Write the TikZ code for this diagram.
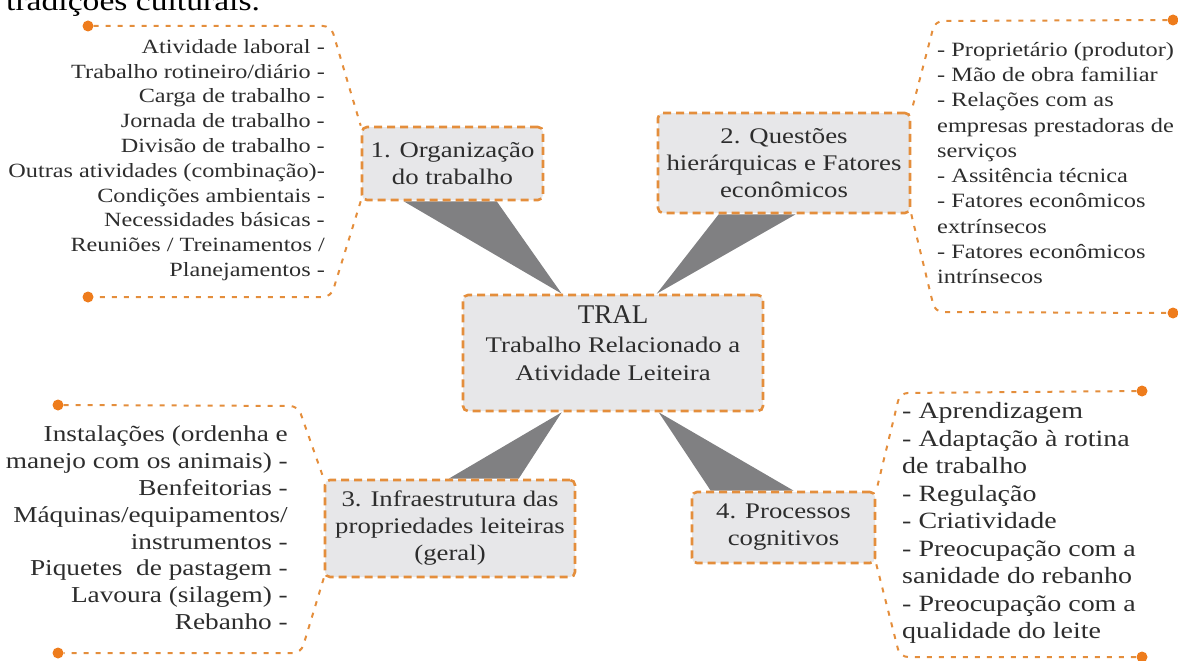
\documentclass[tikz,border=0pt]{standalone}
\usepackage{fontspec}
\setmainfont{Liberation Serif}[FakeStretch=1.2]
\newfontfamily\tralfont{Liberation Serif}
\usetikzlibrary{
  calc,
  backgrounds
}
\definecolor{tralorange}{RGB}{228,142,60}
\definecolor{dotorange}{RGB}{238,124,28}
\definecolor{boxgray}{RGB}{231,231,233}
\definecolor{wedgegray}{RGB}{128,128,130}
\definecolor{inktext}{RGB}{45,45,45}

\begin{document}
\begin{tikzpicture}[
  x=1pt, y=-1pt,
  every node/.style={text=inktext, inner sep=0pt},
  topicbox/.style={draw=tralorange, fill=boxgray, line width=2.6pt,
                dash pattern=on 8pt off 5pt, rounded corners=5pt, align=center,
                font=\fontsize{22.3}{27}\selectfont},
  itemlist/.style={font=\fontsize{20.2}{24.8}\selectfont},
  bracket/.style={draw=tralorange, line width=2pt,
                dash pattern=on 5pt off 7pt, rounded corners=8pt},
  enddot/.style={circle, fill=dotorange, minimum size=11pt},
  wedge/.style={fill=wedgegray}
]
\useasboundingbox (0,0) rectangle (1178,661);

\node[anchor=base west, text=black, font=\fontsize{28}{32}\selectfont] (prev) at (6,11) {tradições culturais.};

\node[topicbox, minimum width=300pt, minimum height=116pt] (tral) at (613,353) {};
\node[align=center, font=\fontsize{22.3}{28.5}\selectfont] (tral text) at ([yshift=9.5pt]tral.center)
  {{\tralfont\fontsize{27}{28}\selectfont TRAL}\\Trabalho Relacionado a\\Atividade Leiteira};

\node[topicbox, minimum width=181pt, minimum height=73pt] (org) at (452.5,163.5) {1. Organização\\do trabalho};
\node[topicbox, minimum width=252pt, minimum height=100pt] (hier) at (784,163) {2. Questões\\hierárquicas e Fatores\\econômicos};
\node[topicbox, minimum width=250pt, minimum height=97pt] (infra) at (450,528.5) {3. Infraestrutura das\\propriedades leiteiras\\(geral)};
\node[topicbox, minimum width=183pt, minimum height=71pt] (cogn) at (783.5,527.5) {4. Processos\\cognitivos};

\begin{scope}[on background layer]
  \fill[wedge] ([xshift=43pt]org.south west) -- ([xshift=136pt]org.south west) -- ([xshift=100pt]tral.north west) -- cycle;
  \fill[wedge] ([xshift=62pt]hier.south west) -- ([xshift=139pt]hier.south west) -- ([xshift=195pt]tral.north west) -- cycle;
  \fill[wedge] ([xshift=125pt]infra.north west) -- ([xshift=195pt]infra.north west) -- ([xshift=100pt]tral.south west) -- cycle;
  \fill[wedge] ([xshift=20pt]cogn.north west) -- ([xshift=103pt]cogn.north west) -- ([xshift=197pt]tral.south west) -- cycle;
\end{scope}

\node[itemlist, align=right, anchor=east] (org items) at (325,160)
  {Atividade laboral -\\Trabalho rotineiro/diário -\\Carga de trabalho -\\Jornada de trabalho -\\Divisão de trabalho -\\Outras atividades (combinação)-\\Condições ambientais -\\Necessidades básicas -\\Reuniões / Treinamentos /\\Planejamentos -};
\node[itemlist, font=\fontsize{20.3}{25.3}\selectfont, align=left, anchor=west] (hier items) at (937,163)
  {- Proprietário (produtor)\\- Mão de obra familiar\\- Relações com as\\empresas prestadoras de\\serviços\\- Assitência técnica\\- Fatores econômicos\\extrínsecos\\- Fatores econômicos\\intrínsecos};
\node[itemlist, font=\fontsize{22.75}{26.8}\selectfont, align=right, anchor=east] (infra items) at (288,528)
  {Instalações (ordenha e\\manejo com os animais) -\\Benfeitorias -\\Máquinas/equipamentos/\\instrumentos -\\Piquetes~ de pastagem -\\Lavoura (silagem) -\\Rebanho -};
\node[itemlist, font=\fontsize{23.3}{27.5}\selectfont, align=left, anchor=west] (cogn items) at (902,523)
  {- Aprendizagem\\- Adaptação à rotina\\de trabalho\\- Regulação\\- Criatividade\\- Preocupação com a\\sanidade do rebanho\\- Preocupação com a\\qualidade do leite};

\node[enddot] (org top) at (88,26) {};
\node[enddot] (org bot) at (88,297) {};
\node[enddot] (hier top) at (1173,20) {};
\node[enddot] (hier bot) at (1173,313) {};
\node[enddot] (infra top) at (58,405) {};
\node[enddot] (infra bot) at (58,653) {};
\node[enddot] (cogn top) at (1142,391) {};
\node[enddot] (cogn bot) at (1142,657) {};

\draw[bracket] (org top) -- (331,26) -- (org.north west);
\draw[bracket] (org.south west) -- (331,297) -- (org bot);
\draw[bracket] (hier top) -- (935,21) -- (hier.north east);
\draw[bracket] (hier.south east) -- (935,312) -- (hier bot);
\draw[bracket] (infra top) -- (298,406) -- (infra.north west);
\draw[bracket] (infra.south west) -- (301,653) -- (infra bot);
\draw[bracket] (cogn top) -- (900,393) -- (cogn.north east);
\draw[bracket] (cogn.south east) -- (900,657) -- (cogn bot);

\end{tikzpicture}
\end{document}
